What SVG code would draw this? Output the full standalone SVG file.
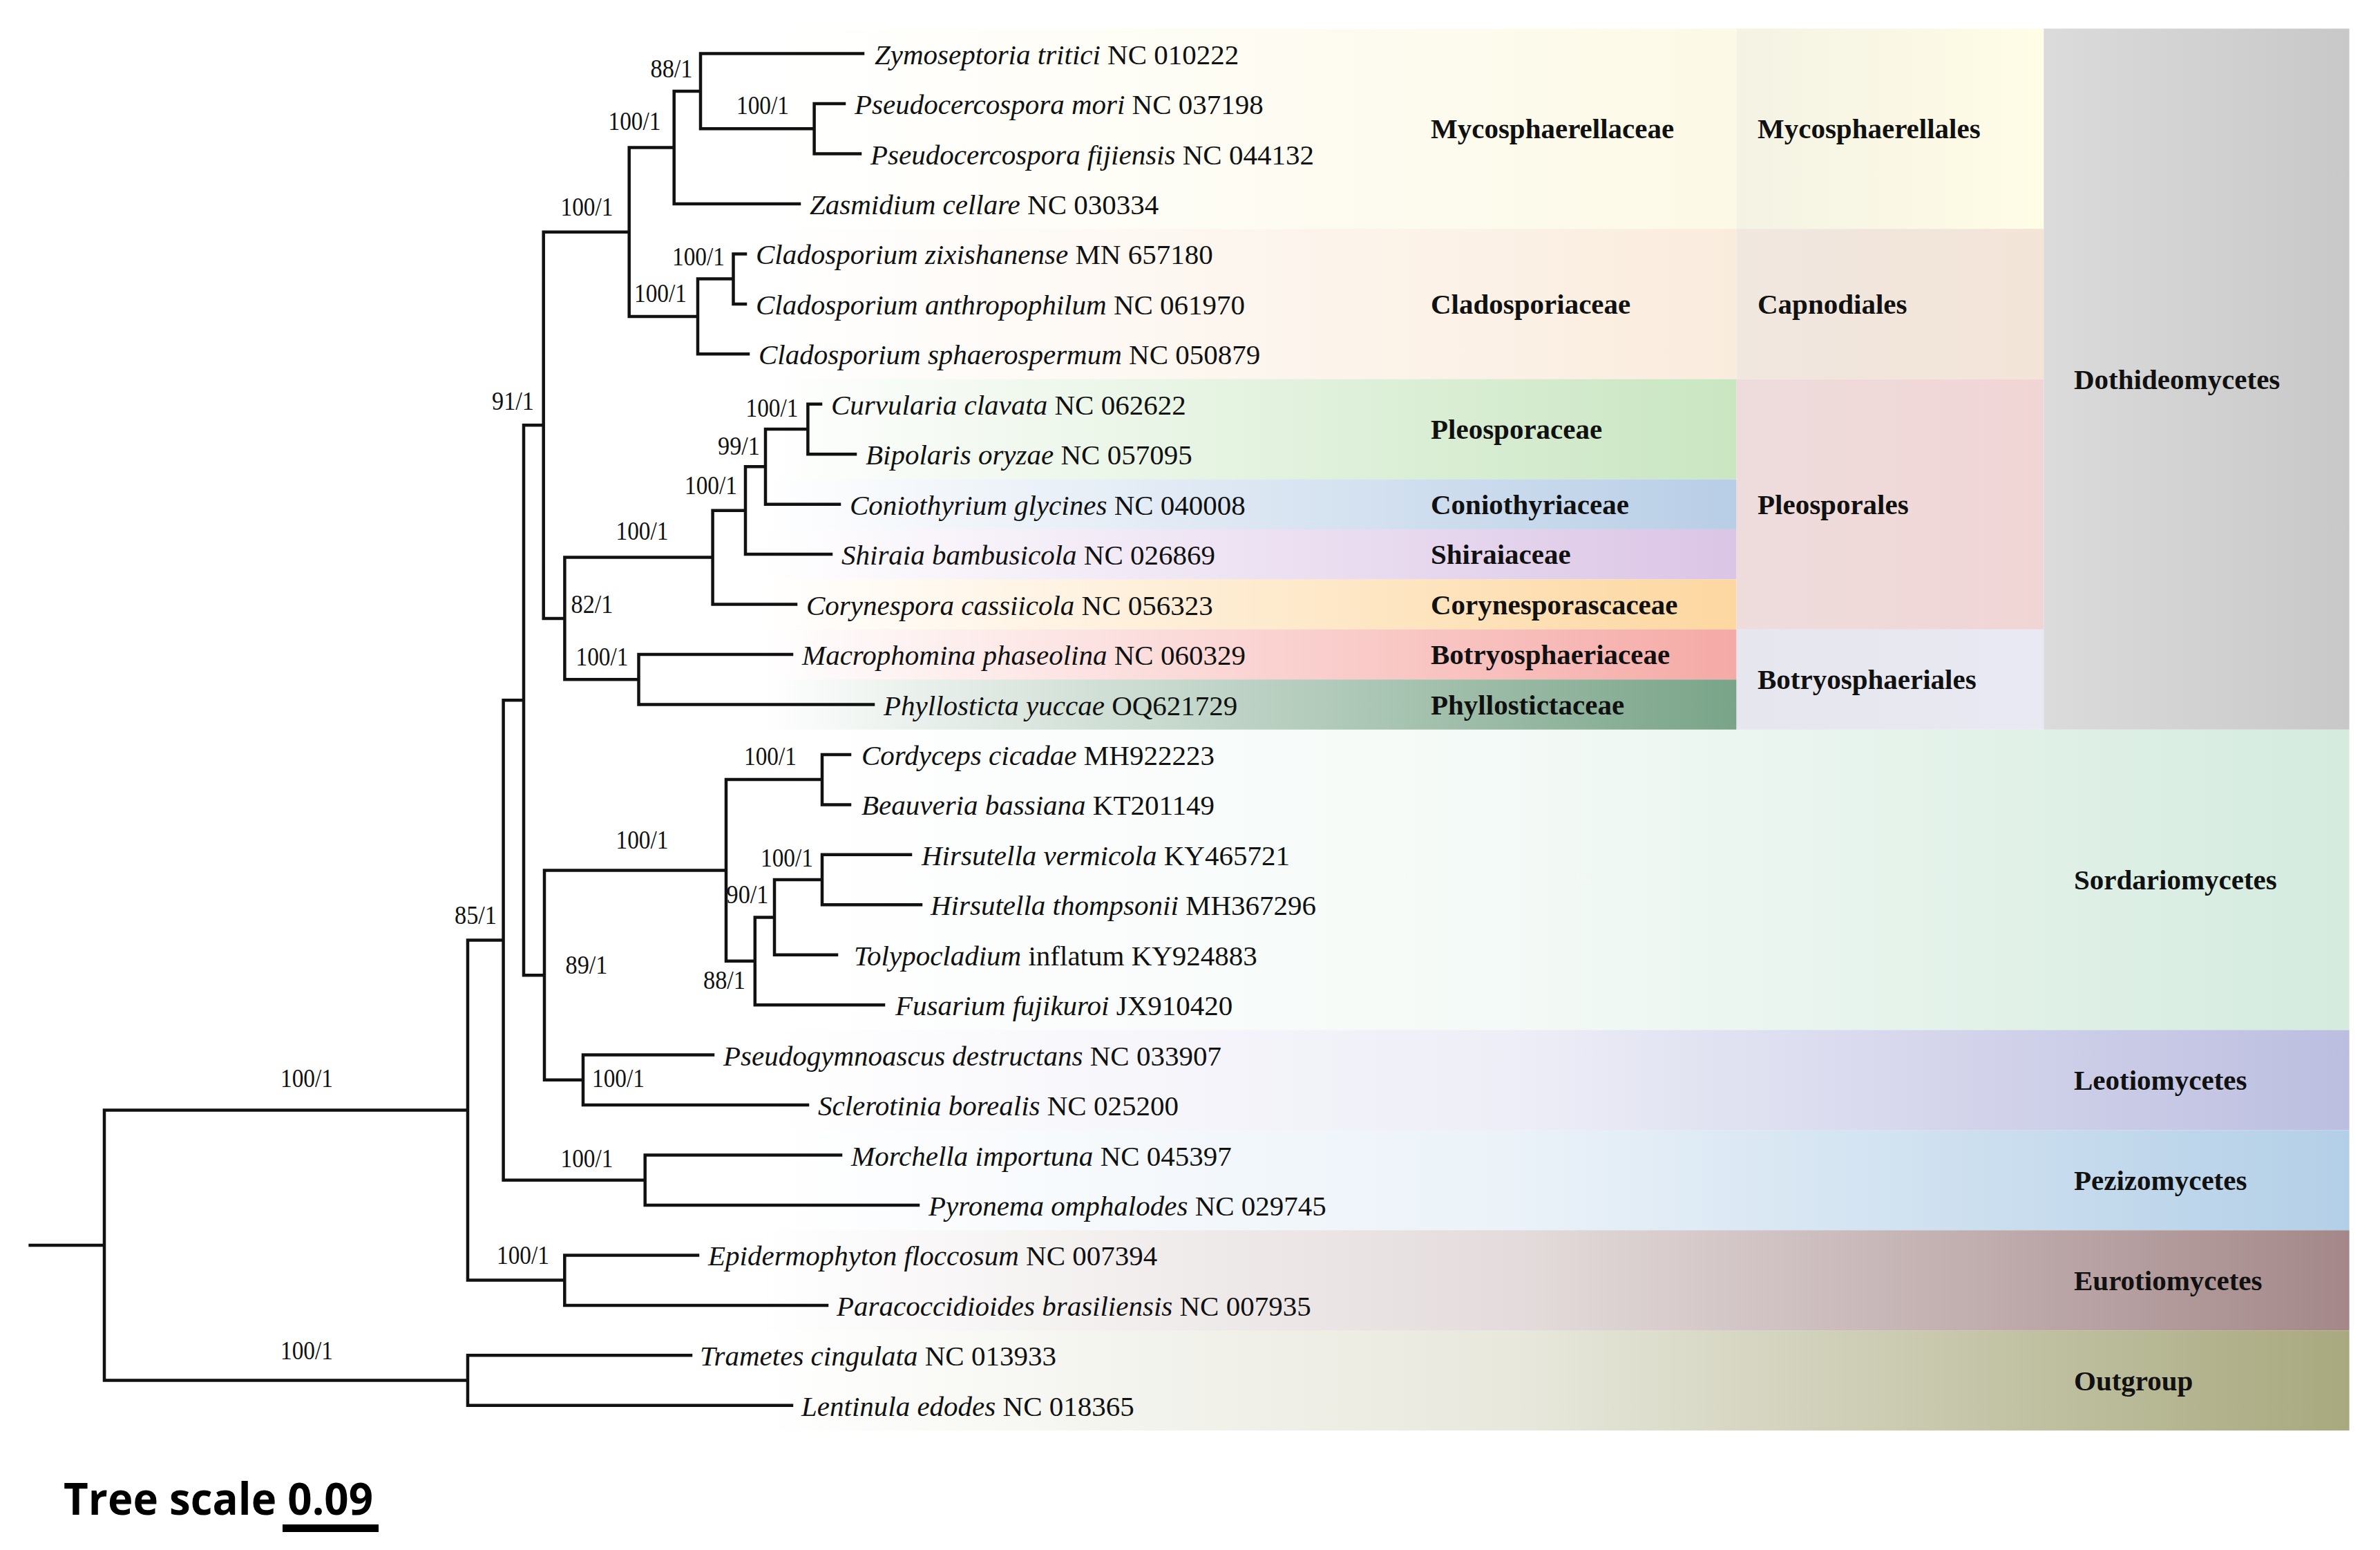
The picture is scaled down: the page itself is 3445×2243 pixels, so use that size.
<svg xmlns="http://www.w3.org/2000/svg" width="3445" height="2243" viewBox="0 0 3445 2243">
<style>
.leaf{font-family:'Liberation Serif','Times New Roman',serif;font-size:41px;fill:#111}
.sp{font-style:italic}
.bs{font-family:'Liberation Serif','Times New Roman',serif;font-size:37px;fill:#111;text-anchor:middle}
.clade{font-family:'Liberation Serif','Times New Roman',serif;font-size:41px;font-weight:bold;fill:#111}
.tree{fill:none;stroke:#111;stroke-width:4.5;stroke-linecap:square}
.scale{font-family:'Open Sans','Noto Sans',sans-serif;font-size:64px;font-weight:bold;fill:#000}
</style>
<defs>
<linearGradient id="gMycF" gradientUnits="userSpaceOnUse" x1="1100" y1="0" x2="2513.6" y2="0"><stop offset="0" stop-color="#fcf9e6" stop-opacity="0"/><stop offset="1" stop-color="#fcf9e6"/></linearGradient>
<linearGradient id="gClaF" gradientUnits="userSpaceOnUse" x1="1100" y1="0" x2="2513.6" y2="0"><stop offset="0" stop-color="#faecdd" stop-opacity="0"/><stop offset="1" stop-color="#faecdd"/></linearGradient>
<linearGradient id="gPleF" gradientUnits="userSpaceOnUse" x1="1100" y1="0" x2="2513.6" y2="0"><stop offset="0" stop-color="#c9e6c1" stop-opacity="0"/><stop offset="1" stop-color="#c9e6c1"/></linearGradient>
<linearGradient id="gConF" gradientUnits="userSpaceOnUse" x1="1100" y1="0" x2="2513.6" y2="0"><stop offset="0" stop-color="#b8cee6" stop-opacity="0"/><stop offset="1" stop-color="#b8cee6"/></linearGradient>
<linearGradient id="gShiF" gradientUnits="userSpaceOnUse" x1="1100" y1="0" x2="2513.6" y2="0"><stop offset="0" stop-color="#dbc5e6" stop-opacity="0"/><stop offset="1" stop-color="#dbc5e6"/></linearGradient>
<linearGradient id="gCorF" gradientUnits="userSpaceOnUse" x1="1100" y1="0" x2="2513.6" y2="0"><stop offset="0" stop-color="#fdd7a0" stop-opacity="0"/><stop offset="1" stop-color="#fdd7a0"/></linearGradient>
<linearGradient id="gBotF" gradientUnits="userSpaceOnUse" x1="1100" y1="0" x2="2513.6" y2="0"><stop offset="0" stop-color="#f5aaa6" stop-opacity="0"/><stop offset="1" stop-color="#f5aaa6"/></linearGradient>
<linearGradient id="gPhyF" gradientUnits="userSpaceOnUse" x1="1100" y1="0" x2="2513.6" y2="0"><stop offset="0" stop-color="#79a488" stop-opacity="0"/><stop offset="1" stop-color="#79a488"/></linearGradient>
<linearGradient id="gMycO" gradientUnits="userSpaceOnUse" x1="2513.6" y1="0" x2="2958.3" y2="0"><stop offset="0" stop-color="#f4f2e3"/><stop offset="1" stop-color="#fffde6"/></linearGradient>
<linearGradient id="gCapO" gradientUnits="userSpaceOnUse" x1="2513.6" y1="0" x2="2958.3" y2="0"><stop offset="0" stop-color="#f0e7df"/><stop offset="1" stop-color="#f3e4d7"/></linearGradient>
<linearGradient id="gPleO" gradientUnits="userSpaceOnUse" x1="2513.6" y1="0" x2="2958.3" y2="0"><stop offset="0" stop-color="#eedcdc"/><stop offset="1" stop-color="#f1d5d5"/></linearGradient>
<linearGradient id="gBotO" gradientUnits="userSpaceOnUse" x1="2513.6" y1="0" x2="2958.3" y2="0"><stop offset="0" stop-color="#e6e6ee"/><stop offset="1" stop-color="#e9e9f3"/></linearGradient>
<linearGradient id="gDot" gradientUnits="userSpaceOnUse" x1="2958.3" y1="0" x2="3400.6" y2="0"><stop offset="0" stop-color="#dbdbdb"/><stop offset="1" stop-color="#c8c8c8"/></linearGradient>
<linearGradient id="gSor" gradientUnits="userSpaceOnUse" x1="1100" y1="0" x2="3400.6" y2="0"><stop offset="0" stop-color="#d4ebde" stop-opacity="0"/><stop offset="0.478" stop-color="#d4ebde" stop-opacity="0.27"/><stop offset="1" stop-color="#d4ebde"/></linearGradient>
<linearGradient id="gLeo" gradientUnits="userSpaceOnUse" x1="1100" y1="0" x2="3400.6" y2="0"><stop offset="0" stop-color="#bcbee0" stop-opacity="0"/><stop offset="0.478" stop-color="#bcbee0" stop-opacity="0.27"/><stop offset="1" stop-color="#bcbee0"/></linearGradient>
<linearGradient id="gPez" gradientUnits="userSpaceOnUse" x1="1100" y1="0" x2="3400.6" y2="0"><stop offset="0" stop-color="#b3cfe7" stop-opacity="0"/><stop offset="0.478" stop-color="#b3cfe7" stop-opacity="0.27"/><stop offset="1" stop-color="#b3cfe7"/></linearGradient>
<linearGradient id="gEur" gradientUnits="userSpaceOnUse" x1="1100" y1="0" x2="3400.6" y2="0"><stop offset="0" stop-color="#a48889" stop-opacity="0"/><stop offset="0.478" stop-color="#a48889" stop-opacity="0.3"/><stop offset="1" stop-color="#a48889"/></linearGradient>
<linearGradient id="gOut" gradientUnits="userSpaceOnUse" x1="1100" y1="0" x2="3400.6" y2="0"><stop offset="0" stop-color="#a8a97e" stop-opacity="0"/><stop offset="0.478" stop-color="#a8a97e" stop-opacity="0.27"/><stop offset="1" stop-color="#a8a97e"/></linearGradient>
</defs>
<rect x="0" y="0" width="3445" height="2243" fill="#fff"/>
<g id="bands">
<rect x="1100" y="41.4" width="1413.6" height="289.8" fill="url(#gMycF)"/>
<rect x="1100" y="331.2" width="1413.6" height="217.4" fill="url(#gClaF)"/>
<rect x="1100" y="548.6" width="1413.6" height="144.9" fill="url(#gPleF)"/>
<rect x="1100" y="693.5" width="1413.6" height="72.45" fill="url(#gConF)"/>
<rect x="1100" y="765.95" width="1413.6" height="72.45" fill="url(#gShiF)"/>
<rect x="1100" y="838.4" width="1413.6" height="72.45" fill="url(#gCorF)"/>
<rect x="1100" y="910.85" width="1413.6" height="72.45" fill="url(#gBotF)"/>
<rect x="1100" y="983.3" width="1413.6" height="72.5" fill="url(#gPhyF)"/>
<rect x="2513.6" y="41.4" width="444.7" height="289.8" fill="url(#gMycO)"/>
<rect x="2513.6" y="331.2" width="444.7" height="217.4" fill="url(#gCapO)"/>
<rect x="2513.6" y="548.6" width="444.7" height="362.25" fill="url(#gPleO)"/>
<rect x="2513.6" y="910.85" width="444.7" height="144.95" fill="url(#gBotO)"/>
<rect x="2958.3" y="41.4" width="442.3" height="1014.4" fill="url(#gDot)"/>
<rect x="1100" y="1055.8" width="2300.6" height="434.7" fill="url(#gSor)"/>
<rect x="1100" y="1490.5" width="2300.6" height="144.9" fill="url(#gLeo)"/>
<rect x="1100" y="1635.4" width="2300.6" height="144.9" fill="url(#gPez)"/>
<rect x="1100" y="1780.3" width="2300.6" height="144.9" fill="url(#gEur)"/>
<rect x="1100" y="1925.2" width="2300.6" height="144.9" fill="url(#gOut)"/>
</g>
<g id="clade-labels">
<text class="clade" x="2071" y="200">Mycosphaerellaceae</text>
<text class="clade" x="2071" y="454">Cladosporiaceae</text>
<text class="clade" x="2071" y="635">Pleosporaceae</text>
<text class="clade" x="2071" y="744">Coniothyriaceae</text>
<text class="clade" x="2071" y="816">Shiraiaceae</text>
<text class="clade" x="2071" y="889">Corynesporascaceae</text>
<text class="clade" x="2071" y="961">Botryosphaeriaceae</text>
<text class="clade" x="2071" y="1034">Phyllostictaceae</text>
<text class="clade" x="2544" y="200">Mycosphaerellales</text>
<text class="clade" x="2544" y="454">Capnodiales</text>
<text class="clade" x="2544" y="744">Pleosporales</text>
<text class="clade" x="2544" y="997">Botryosphaeriales</text>
<text class="clade" x="3002" y="563">Dothideomycetes</text>
<text class="clade" x="3002" y="1287">Sordariomycetes</text>
<text class="clade" x="3002" y="1577">Leotiomycetes</text>
<text class="clade" x="3002" y="1722">Pezizomycetes</text>
<text class="clade" x="3002" y="1867">Eurotiomycetes</text>
<text class="clade" x="3002" y="2012">Outgroup</text>
</g>
<g id="connectors">
<path class="tree" d="M43.6 1802H151M151 1606.6V1997.5M151 1606.6H677M151 1997.5H677
M677 1961.3V2033.8M677 1961.3H1000M677 2033.8H1146
M677 1360.5V1852.6M677 1360.5H728.6M677 1852.6H817.3
M817.3 1816.4V1888.9M817.3 1816.4H1010M817.3 1888.9H1197
M728.6 1013.2V1707.7M728.6 1013.2H758M728.6 1707.7H933.7
M933.7 1671.5V1744M933.7 1671.5H1217M933.7 1744H1329
M758 615.3V1411.2M758 615.3H786.7M758 1411.2H788
M788 1259.5V1562.8M788 1259.5H1051M788 1562.8H844
M844 1526.6V1599.1M844 1526.6H1032M844 1599.1H1169
M1051 1128.1V1390.8M1051 1128.1H1190M1051 1390.8H1092.8
M1190 1091.9V1164.4M1190 1091.9H1230M1190 1164.4H1230
M1092.8 1327.4V1454.2M1092.8 1327.4H1121M1092.8 1454.2H1279
M1121 1273V1381.7M1121 1273H1190M1121 1381.7H1211
M1190 1236.8V1309.3M1190 1236.8H1318M1190 1309.3H1333
M786.7 335.7V894.9M786.7 335.7H910.7M786.7 894.9H817.4
M817.4 806.6V983.2M817.4 806.6H1031.6M817.4 983.2H924.5
M924.5 947V1019.5M924.5 947H1146M924.5 1019.5H1264
M1031.6 738.7V874.6M1031.6 738.7H1079M1031.6 874.6H1152
M1079 675.3V802.1M1079 675.3H1108M1079 802.1H1203
M1108 621V729.7M1108 621H1169.4M1108 729.7H1215
M1169.4 584.8V657.2M1169.4 584.8H1188M1169.4 657.2H1238
M910.7 213.5V458M910.7 213.5H975.7M910.7 458H1010
M1010 403.6V512.3M1010 403.6H1061.5M1010 512.3H1083
M1061.5 367.4V439.9M1061.5 367.4H1079M1061.5 439.9H1079
M975.7 132V295M975.7 132H1014M975.7 295H1157
M1014 77.6V186.3M1014 77.6H1249M1014 186.3H1178.6
M1178.6 150.1V222.5M1178.6 150.1H1222M1178.6 222.5H1245"/>
</g>
<g id="internal-nodes">
<g id="n-88a"><text class="bs" x="972" y="112" textLength="61" lengthAdjust="spacingAndGlyphs">88/1</text></g>
<g id="n-pseudocercospora"><text class="bs" x="1104" y="165" textLength="76" lengthAdjust="spacingAndGlyphs">100/1</text></g>
<g id="n-mycosphaerellaceae"><text class="bs" x="918.5" y="188" textLength="76" lengthAdjust="spacingAndGlyphs">100/1</text></g>
<g id="n-capnodiales"><text class="bs" x="849.5" y="312" textLength="76" lengthAdjust="spacingAndGlyphs">100/1</text></g>
<g id="n-zixishanense"><text class="bs" x="1011" y="384" textLength="76" lengthAdjust="spacingAndGlyphs">100/1</text></g>
<g id="n-cladosporium"><text class="bs" x="956" y="437" textLength="76" lengthAdjust="spacingAndGlyphs">100/1</text></g>
<g id="n-91"><text class="bs" x="742.5" y="593" textLength="61" lengthAdjust="spacingAndGlyphs">91/1</text></g>
<g id="n-curvularia"><text class="bs" x="1117.5" y="603" textLength="76" lengthAdjust="spacingAndGlyphs">100/1</text></g>
<g id="n-99"><text class="bs" x="1069.5" y="658" textLength="61" lengthAdjust="spacingAndGlyphs">99/1</text></g>
<g id="n-100a"><text class="bs" x="1029" y="715" textLength="76" lengthAdjust="spacingAndGlyphs">100/1</text></g>
<g id="n-pleosporales"><text class="bs" x="929.5" y="781" textLength="76" lengthAdjust="spacingAndGlyphs">100/1</text></g>
<g id="n-82"><text class="bs" x="857" y="887" textLength="61" lengthAdjust="spacingAndGlyphs">82/1</text></g>
<g id="n-botryosphaeriales"><text class="bs" x="871.5" y="963" textLength="76" lengthAdjust="spacingAndGlyphs">100/1</text></g>
<g id="n-cordyceps"><text class="bs" x="1115" y="1107" textLength="76" lengthAdjust="spacingAndGlyphs">100/1</text></g>
<g id="n-sordariomycetes"><text class="bs" x="929.5" y="1228" textLength="76" lengthAdjust="spacingAndGlyphs">100/1</text></g>
<g id="n-hirsutella"><text class="bs" x="1139" y="1254" textLength="76" lengthAdjust="spacingAndGlyphs">100/1</text></g>
<g id="n-90"><text class="bs" x="1082" y="1307" textLength="61" lengthAdjust="spacingAndGlyphs">90/1</text></g>
<g id="n-85"><text class="bs" x="688.5" y="1337" textLength="61" lengthAdjust="spacingAndGlyphs">85/1</text></g>
<g id="n-89"><text class="bs" x="849" y="1409" textLength="61" lengthAdjust="spacingAndGlyphs">89/1</text></g>
<g id="n-88b"><text class="bs" x="1048.5" y="1431" textLength="61" lengthAdjust="spacingAndGlyphs">88/1</text></g>
<g id="n-leotiomycetes"><text class="bs" x="895" y="1573" textLength="76" lengthAdjust="spacingAndGlyphs">100/1</text></g>
<g id="n-ascomycota"><text class="bs" x="444" y="1573" textLength="76" lengthAdjust="spacingAndGlyphs">100/1</text></g>
<g id="n-pezizomycetes"><text class="bs" x="849.5" y="1689" textLength="76" lengthAdjust="spacingAndGlyphs">100/1</text></g>
<g id="n-eurotiomycetes"><text class="bs" x="757" y="1829" textLength="76" lengthAdjust="spacingAndGlyphs">100/1</text></g>
<g id="n-outgroup"><text class="bs" x="444" y="1967" textLength="76" lengthAdjust="spacingAndGlyphs">100/1</text></g>
</g>
<g id="leaves">
<g id="leaf-0"><text class="leaf" x="1266" y="92.6"><tspan class="sp">Zymoseptoria tritici</tspan> NC 010222</text></g>
<g id="leaf-1"><text class="leaf" x="1237" y="165.1"><tspan class="sp">Pseudocercospora mori</tspan> NC 037198</text></g>
<g id="leaf-2"><text class="leaf" x="1260" y="237.5"><tspan class="sp">Pseudocercospora fijiensis</tspan> NC 044132</text></g>
<g id="leaf-3"><text class="leaf" x="1172" y="310"><tspan class="sp">Zasmidium cellare</tspan> NC 030334</text></g>
<g id="leaf-4"><text class="leaf" x="1094" y="382.4"><tspan class="sp">Cladosporium zixishanense</tspan> MN 657180</text></g>
<g id="leaf-5"><text class="leaf" x="1094" y="454.9"><tspan class="sp">Cladosporium anthropophilum</tspan> NC 061970</text></g>
<g id="leaf-6"><text class="leaf" x="1098" y="527.3"><tspan class="sp">Cladosporium sphaerospermum</tspan> NC 050879</text></g>
<g id="leaf-7"><text class="leaf" x="1203" y="599.8"><tspan class="sp">Curvularia clavata</tspan> NC 062622</text></g>
<g id="leaf-8"><text class="leaf" x="1253" y="672.2"><tspan class="sp">Bipolaris oryzae</tspan> NC 057095</text></g>
<g id="leaf-9"><text class="leaf" x="1230" y="744.7"><tspan class="sp">Coniothyrium glycines</tspan> NC 040008</text></g>
<g id="leaf-10"><text class="leaf" x="1218" y="817.1"><tspan class="sp">Shiraia bambusicola</tspan> NC 026869</text></g>
<g id="leaf-11"><text class="leaf" x="1167" y="889.6"><tspan class="sp">Corynespora cassiicola</tspan> NC 056323</text></g>
<g id="leaf-12"><text class="leaf" x="1161" y="962"><tspan class="sp">Macrophomina phaseolina</tspan> NC 060329</text></g>
<g id="leaf-13"><text class="leaf" x="1279" y="1034.5"><tspan class="sp">Phyllosticta yuccae</tspan> OQ621729</text></g>
<g id="leaf-14"><text class="leaf" x="1247" y="1106.9"><tspan class="sp">Cordyceps cicadae</tspan> MH922223</text></g>
<g id="leaf-15"><text class="leaf" x="1247" y="1179.4"><tspan class="sp">Beauveria bassiana</tspan> KT201149</text></g>
<g id="leaf-16"><text class="leaf" x="1334" y="1251.8"><tspan class="sp">Hirsutella vermicola</tspan> KY465721</text></g>
<g id="leaf-17"><text class="leaf" x="1347" y="1324.3"><tspan class="sp">Hirsutella thompsonii</tspan> MH367296</text></g>
<g id="leaf-18"><text class="leaf" x="1236" y="1396.7"><tspan class="sp">Tolypocladium</tspan> inflatum KY924883</text></g>
<g id="leaf-19"><text class="leaf" x="1296" y="1469.2"><tspan class="sp">Fusarium fujikuroi</tspan> JX910420</text></g>
<g id="leaf-20"><text class="leaf" x="1047" y="1541.6"><tspan class="sp">Pseudogymnoascus destructans</tspan> NC 033907</text></g>
<g id="leaf-21"><text class="leaf" x="1184" y="1614.1"><tspan class="sp">Sclerotinia borealis</tspan> NC 025200</text></g>
<g id="leaf-22"><text class="leaf" x="1232" y="1686.5"><tspan class="sp">Morchella importuna</tspan> NC 045397</text></g>
<g id="leaf-23"><text class="leaf" x="1344" y="1759"><tspan class="sp">Pyronema omphalodes</tspan> NC 029745</text></g>
<g id="leaf-24"><text class="leaf" x="1025" y="1831.4"><tspan class="sp">Epidermophyton floccosum</tspan> NC 007394</text></g>
<g id="leaf-25"><text class="leaf" x="1211" y="1903.9"><tspan class="sp">Paracoccidioides brasiliensis</tspan> NC 007935</text></g>
<g id="leaf-26"><text class="leaf" x="1013" y="1976.3"><tspan class="sp">Trametes cingulata</tspan> NC 013933</text></g>
<g id="leaf-27"><text class="leaf" x="1160" y="2048.8"><tspan class="sp">Lentinula edodes</tspan> NC 018365</text></g>
</g>
<g id="scale-bar">
<text class="scale" x="92" y="2192" textLength="448" lengthAdjust="spacingAndGlyphs">Tree scale 0.09</text>
<rect x="409" y="2206" width="139" height="11" fill="#000"/>
</g>
</svg>
